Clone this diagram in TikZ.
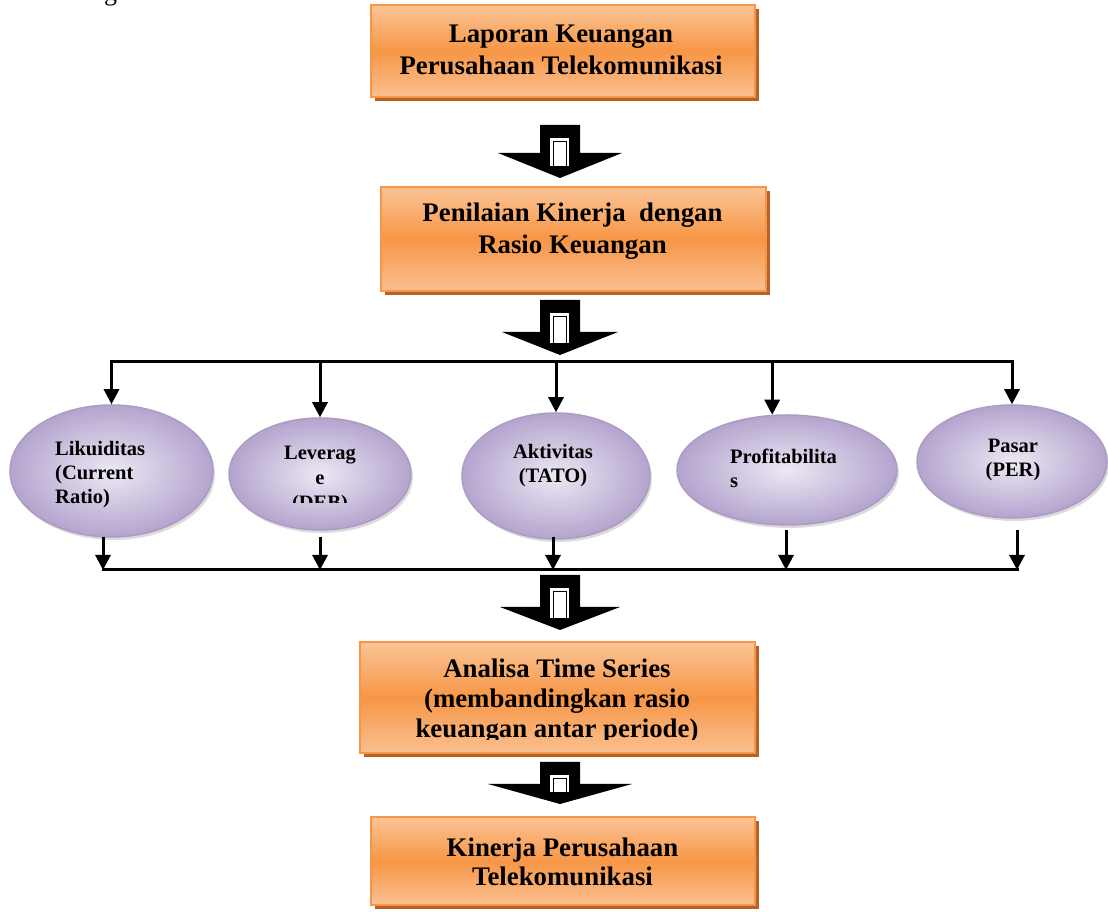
\documentclass[tikz,border=0pt]{standalone}
\usepackage{fontspec}
\setmainfont{Liberation Serif}
\usetikzlibrary{shapes.geometric,arrows.meta,calc,shadows}
\definecolor{orTop}{RGB}{251,196,150}
\definecolor{orMid}{RGB}{247,150,70}
\definecolor{orBot}{RGB}{250,192,145}
\definecolor{orLine}{RGB}{245,150,75}
\definecolor{orShadow}{RGB}{185,98,38}
\definecolor{lvOut}{RGB}{180,164,206}
\definecolor{lvIn}{RGB}{236,232,243}
\definecolor{lvLine}{RGB}{172,155,196}
\newcommand{\blkarrow}[5]{%
  \fill[black] (#1-20,#2) -- (#1+20,#2) -- (#1+20,#3) -- (#1+#5,#3) -- (#1,#4) -- (#1-#5,#3) -- (#1-20,#3) -- cycle;
  \fill[white] (#1-10,#2-13) rectangle (#1+9,#4+12);
  \draw[black,line width=0.8pt] (#1-7,#2-16) rectangle (#1+6,#4+12);
}
\begin{document}
\begin{tikzpicture}[x=1pt,y=1pt,
  rbox/.style={draw=orLine, line width=1.5pt, top color=orTop, bottom color=orBot, middle color=orMid,
     inner sep=0pt, drop shadow={shadow xshift=4pt,shadow yshift=-4pt,fill=orShadow,opacity=1}},
  ell/.style={ellipse, draw=lvLine, line width=1.5pt, inner color=lvIn, outer color=lvOut, inner sep=0pt,
     drop shadow={shadow xshift=2pt,shadow yshift=-3pt,fill=black!40,opacity=.35}},
  btext/.style={font=\fontsize{26.8}{32}\selectfont\bfseries, align=center, inner sep=0pt},
  etext/.style={font=\fontsize{20.5}{24}\selectfont\bfseries, inner sep=0pt},
  wire/.style={line width=3pt, line cap=rect},
  arr/.style={line width=3pt, -{Triangle[width=15pt,length=15pt]}}
]
\useasboundingbox (0,0) rectangle (1108,912);
\node[font=\fontsize{26}{26}\selectfont, anchor=base, inner sep=0pt] (frag) at (110.5,911) {g};

% boxes
\node[rbox, minimum width=384pt, minimum height=92pt] (b1) at (563,861) {};
\node[rbox, minimum width=385pt, minimum height=104pt] (b2) at (573.5,673) {};
\node[rbox, minimum width=395pt, minimum height=111pt] (b3) at (557.5,214.5) {};
\node[rbox, minimum width=384pt, minimum height=88pt] (b4) at (563,51) {};

\node[btext] (tb1) at (561,862) {Laporan Keuangan\\Perusahaan Telekomunikasi};
\node[btext] (tb2) at (572.5,681) {Penilaian Kinerja\ \ dengan\\Rasio Keuangan};
\begin{scope}
  \clip (360,172) rectangle (760,300);
  \node[btext, font=\fontsize{26.8}{30}\selectfont\bfseries] (tb3) at (557,211) {Analisa Time Series\\(membandingkan rasio\\keuangan antar periode)};
\end{scope}
\node[btext, font=\fontsize{26.8}{29}\selectfont\bfseries] (tb4) at (562.5,50) {Kinerja Perusahaan\\Telekomunikasi};

% block arrows
\blkarrow{560}{787}{759}{734}{62}
\blkarrow{560}{612}{580}{557}{58}
\blkarrow{560}{337}{305}{282}{60}
\blkarrow{560}{150}{128}{108}{72}

% ellipses
\node[ell, minimum width=203pt, minimum height=132pt] (e1) at (111.5,441) {};
\node[ell, minimum width=182pt, minimum height=112pt] (e2) at (320,438) {};
\node[ell, minimum width=188pt, minimum height=126pt] (e3) at (556,436) {};
\node[ell, minimum width=220pt, minimum height=110pt] (e4) at (787,442) {};
\node[ell, minimum width=190pt, minimum height=113pt] (e5) at (1012,450.5) {};

\node[etext, anchor=west, align=left] (t1) at (55,437) {Likuiditas\\(Current\\Ratio)};
\begin{scope}
  \clip (220,409) rectangle (420,500);
  \node[etext, align=center, font=\fontsize{20.5}{25}\selectfont\bfseries] (t2) at (320,432) {Leverag\\e\\(DEB)};
\end{scope}
\node[etext, align=center] (t3) at (553,446) {Aktivitas\\(TATO)};
\node[etext, anchor=west, align=left] (t4) at (730,444) {Profitabilita\\s};
\node[etext, align=center] (t5) at (1013,452) {Pasar\\(PER)};

% distribution lines
\coordinate (top) at (0,550);
\coordinate (bot) at (0,342);
\draw[wire] (e1.north |- top) -- (e5.north |- top);
\draw[arr] (e1.north |- top) -- (e1.north);
\draw[arr] (e2.north |- top) -- (e2.north);
\draw[arr] (e3.north |- top) -- (e3.north);
\draw[arr] (e4.105 |- top) -- (e4.105);
\draw[arr] (e5.north |- top) -- (e5.north);

\coordinate (d1) at (103,375);
\coordinate (d2) at (320,375);
\coordinate (d3) at (553,375);
\coordinate (d4) at (786,382);
\coordinate (d5) at (1017,382);
\draw[wire] (d1 |- bot) -- (d5 |- bot);
\foreach \i in {1,...,5}{\draw[arr] (d\i) -- (d\i |- bot);}
\end{tikzpicture}
\end{document}
